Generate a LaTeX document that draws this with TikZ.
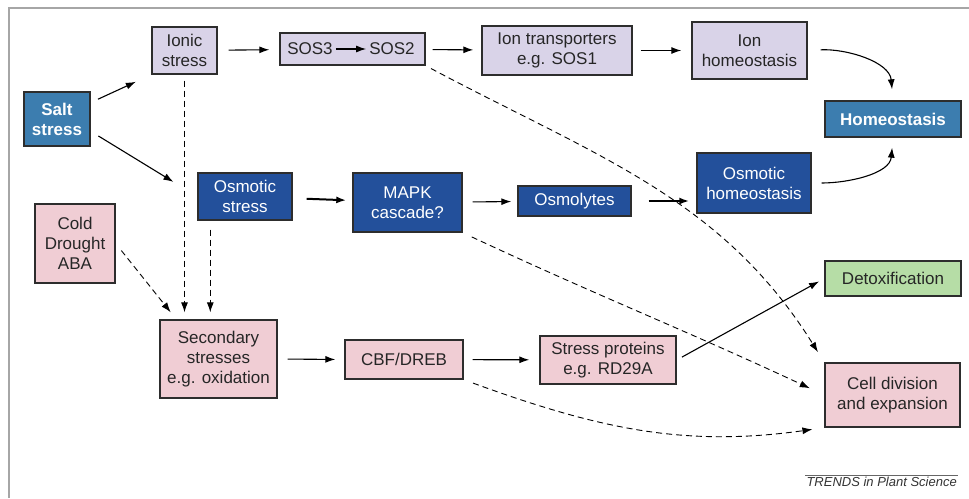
\documentclass[tikz,border=0pt]{standalone}
\usepackage{fontspec}
\setmainfont{Liberation Sans}
\usetikzlibrary{arrows.meta}

\definecolor{lavbox}{RGB}{217,211,232}
\definecolor{steelbox}{RGB}{60,125,175}
\definecolor{navybox}{RGB}{35,80,155}
\definecolor{rosebox}{RGB}{240,205,212}
\definecolor{mintbox}{RGB}{182,221,166}
\definecolor{boxline}{RGB}{45,45,45}

\begin{document}
\begin{tikzpicture}[x=1pt,y=-1pt]
\tikzset{ >={Latex[length=10pt,width=7pt]},
  box/.style={draw=boxline, line width=1.4pt, inner sep=0pt, align=center,
              font=\fontsize{17}{20}\selectfont},
  lav/.style={box, fill=lavbox, text=black!85},
  steel/.style={box, fill=steelbox, text=white, font=\fontsize{17}{20}\selectfont\bfseries},
  navy/.style={box, fill=navybox, text=white},
  rose/.style={box, fill=rosebox, text=black!85},
  mint/.style={box, fill=mintbox, text=black!85},
  conn/.style={->, line width=1.1pt, shorten <=9pt, shorten >=9pt},
  heavy/.style={conn, line width=2pt},
  dconn/.style={conn, dashed, line width=0.9pt, dash pattern=on 6pt off 4pt},
}

\useasboundingbox (0,0) rectangle (969,498);
\draw [black!35, line width=1.5pt] (9,498) -- (9,8) -- (969,8);

% top row: ionic branch
\node [lav, minimum width=65pt, minimum height=47pt] (ionic) at (184.5,50.5) {Ionic\\stress};
\node [lav, minimum width=145pt, minimum height=32pt] (sos) at (352.5,49) {};
\node [font=\fontsize{17}{20}\selectfont, text=black!85, inner sep=1pt] (sos3) at (310,49) {SOS3};
\node [font=\fontsize{17}{20}\selectfont, text=black!85, inner sep=1pt] (sos2) at (392,49) {SOS2};
\node [lav, minimum width=150pt, minimum height=49pt] (iontr) at (557,50.5) {Ion transporters\\e.g. SOS1};
\node [lav, minimum width=115pt, minimum height=57pt] (ionhom) at (749.5,50.5) {Ion\\homeostasis};
\node [steel, minimum width=136pt, minimum height=36pt] (homeo) at (893,119) {Homeostasis};

% salt and osmotic branch
\node [steel, minimum width=66pt, minimum height=54pt] (salt) at (57,119) {Salt\\stress};
\node [navy, minimum width=94pt, minimum height=47pt] (osmstr) at (245,196.5) {Osmotic\\stress};
\node [navy, minimum width=109pt, minimum height=59pt] (mapk) at (407.5,202.5) {MAPK\\cascade?};
\node [navy, minimum width=113pt, minimum height=30pt] (osmolytes) at (574.5,201) {Osmolytes};
\node [navy, minimum width=114pt, minimum height=60pt] (osmhom) at (754,183) {Osmotic\\homeostasis};

% secondary branch
\node [rose, minimum width=80pt, minimum height=79pt] (cold) at (75,243.5) {Cold\\Drought\\ABA};
\node [rose, minimum width=117pt, minimum height=78pt] (second) at (218.5,359) {Secondary\\stresses\\e.g. oxidation};
\node [rose, minimum width=118pt, minimum height=39pt] (cbf) at (404,359.5) {CBF/DREB};
\node [rose, minimum width=136pt, minimum height=48pt] (stressp) at (608,360) {Stress proteins\\e.g. RD29A};
\node [mint, minimum width=136pt, minimum height=35pt] (detox) at (893,278.5) {Detoxification};
\node [rose, minimum width=135pt, minimum height=64pt] (cell) at (892.5,395) {Cell division\\and expansion};

\coordinate (osmdrop) at ([xshift=13pt]osmstr.south west);

\draw [conn, shorten <=2pt, shorten >=2pt] (sos3) -- (sos2);
\draw [conn, shorten <=8pt, shorten >=17pt] (salt.26) -- (ionic.south west);
\draw [conn, shorten >=28pt] (salt.-20) -- (osmstr.west);
\draw [conn, shorten <=11pt, shorten >=10pt] (ionic) -- (sos);
\draw [conn, shorten <=7pt, shorten >=8pt] (sos) -- (iontr);
\draw [conn, shorten <=8pt, shorten >=10pt] (iontr) -- (ionhom);
\draw [conn, shorten <=13pt, shorten >=11pt] (ionhom.east) to [out=3, in=95] (homeo.north);
\draw [conn, shorten <=10pt, shorten >=10pt] (osmhom.east) to [out=0, in=-95] (homeo.south);

\draw [heavy, shorten <=14pt, shorten >=6pt] (osmstr) -- (mapk);
\draw [conn, shorten <=10pt, shorten >=6pt] (mapk) -- (osmolytes);
\draw [heavy, shorten <=17pt, shorten >=7pt] (osmolytes) -- (osmhom.west |- osmolytes);

\draw [dconn, shorten <=6pt, shorten >=7pt] (ionic.south) -- (ionic.south |- second.north);
\draw [dconn, shorten <=9pt, shorten >=7pt] (osmdrop) -- (osmdrop |- second.north);
\draw [dconn, shorten <=9pt, shorten >=9pt] (cold.east) -- ([xshift=17pt]second.north west);

\draw [conn, shorten <=10pt, shorten >=9pt] (second.east) -- (cbf.west);
\draw [conn, shorten <=9pt, shorten >=10pt] (cbf) -- (stressp);
\draw [conn, shorten <=6pt, shorten >=6pt] (stressp.east) -- (detox.west);

\draw [dconn, shorten <=6pt, shorten >=12pt] (sos.south east) to [out=-28, in=122] (cell.north west);
\draw [dconn, shorten <=10pt, shorten >=16pt] (mapk.south east) to [out=-25, in=155] (cell.west);
\draw [dconn, shorten <=10pt, shorten >=12pt] (cbf.south east) to [out=-20, in=188] (cell.south west);

\node [anchor=east, inner sep=1pt, font=\fontsize{13}{15}\selectfont\itshape, text=black!80] (trends) at (958,482) {TRENDS in Plant Science};
\draw [black!60, line width=0.6pt] ([yshift=1pt]trends.north west) -- ([yshift=1pt]trends.north east);

\end{tikzpicture}
\end{document}
